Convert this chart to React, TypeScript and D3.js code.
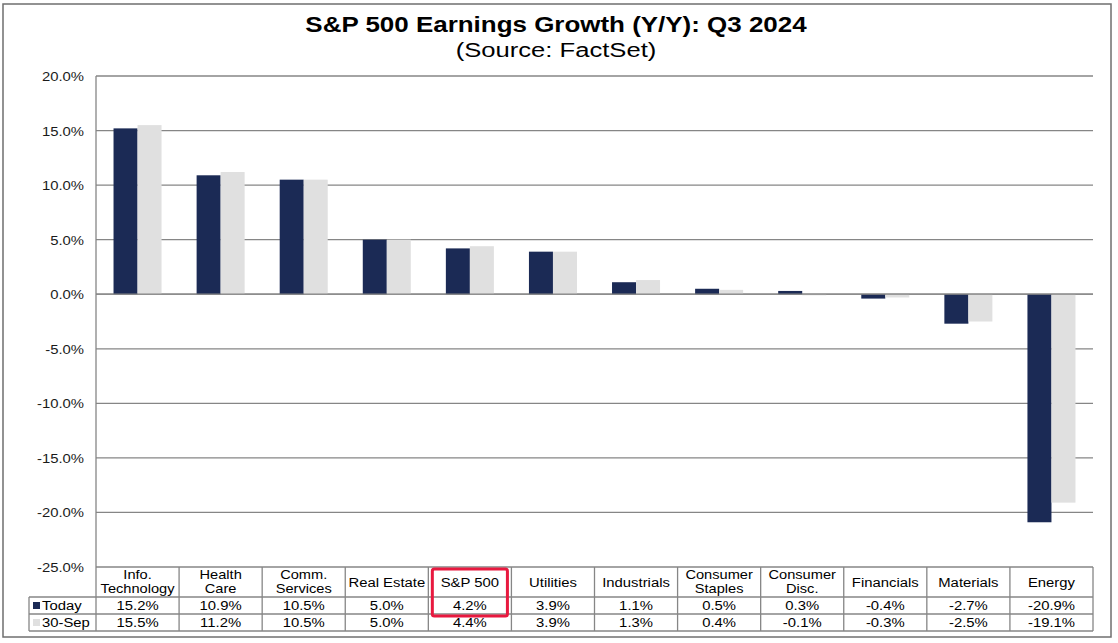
import React from "react";
import * as d3 from "d3";

const categories: string[][] = [
  ["Info.", "Technology"],
  ["Health", "Care"],
  ["Comm.", "Services"],
  ["Real Estate"],
  ["S&P 500"],
  ["Utilities"],
  ["Industrials"],
  ["Consumer", "Staples"],
  ["Consumer", "Disc."],
  ["Financials"],
  ["Materials"],
  ["Energy"],
];
const todayValues = [15.2, 10.9, 10.5, 5.0, 4.2, 3.9, 1.1, 0.5, 0.3, -0.4, -2.7, -20.9];
const sepValues = [15.5, 11.2, 10.5, 5.0, 4.4, 3.9, 1.3, 0.4, -0.1, -0.3, -2.5, -19.1];
const seriesNames = ["Today", "30-Sep"];
const yTicks = [20, 15, 10, 5, 0, -5, -10, -15, -20, -25];
const title = "S&P 500 Earnings Growth (Y/Y): Q3 2024";
const subtitle = "(Source: FactSet)";
const highlight = "S&P 500";

const W = 1118;
const H = 643;
const plotL = 96;
const plotR = 1093;
const plotT = 76;
const plotB = 567;
const rowH = 597;
const row1 = 614;
const row2 = 631;
const legendL = 29;
const colors = ["#1B2A55", "#E0E0E0"];
const gridColor = "#868686";
const FONT = "'Liberation Sans', Arial, sans-serif";

function SText(props: {
  x: number;
  y: number;
  size: number;
  sx: number;
  anchor?: string;
  weight?: string;
  fill?: string;
  children: React.ReactNode;
}) {
  const { x, y, size, sx, anchor = "middle", weight = "normal", fill = "#000" } = props;
  return (
    <text
      transform={`translate(${x},${y}) scale(${sx},1)`}
      textAnchor={anchor as any}
      fontSize={size}
      fontWeight={weight}
      fill={fill}
      fontFamily={FONT}
    >
      {props.children}
    </text>
  );
}

export default function App() {
  const keys = categories.map((c) => c.join(" "));
  const x = d3.scaleBand<string>().domain(keys).range([plotL, plotR]).paddingInner(0).paddingOuter(0);
  const inner = d3
    .scaleBand<string>()
    .domain(seriesNames)
    .range([0, x.bandwidth()])
    .paddingInner(0)
    .paddingOuter(0.73);
  const y = d3.scaleLinear().domain([-25, 20]).range([plotB, plotT]);
  const series = [todayValues, sepValues];
  const fmt = (v: number) => v.toFixed(1) + "%";
  const hiIdx = keys.indexOf(highlight);

  return (
    <svg
      width={W}
      height={H}
      style={{ position: "absolute", left: 0, top: 0, background: "#fff" }}
    >
      <rect x={0} y={0} width={W} height={H} fill="#fff" />
      <rect x={3} y={4} width={1108} height={633} fill="none" stroke="#6f6f6f" strokeWidth={1.5} />

      <SText x={556} y={32} size={22} sx={1.18} weight="bold">
        {title}
      </SText>
      <SText x={556} y={57} size={21} sx={1.22}>
        {subtitle}
      </SText>

      {/* gridlines */}
      {yTicks.map((t) => (
        <line
          key={"g" + t}
          x1={plotL}
          x2={plotR}
          y1={y(t)}
          y2={y(t)}
          stroke={gridColor}
          strokeWidth={1.3}
        />
      ))}
      <line x1={plotL} x2={plotL} y1={plotT} y2={row2} stroke={gridColor} strokeWidth={1.3} />

      {/* y tick labels */}
      {yTicks.map((t) => (
        <SText key={"t" + t} x={84} y={y(t) + 5} size={13.5} sx={1.1} anchor="end" fill="#1a1a1a">
          {fmt(t)}
        </SText>
      ))}

      {/* bars */}
      {series.map((vals, si) =>
        vals.map((v, i) => {
          const x0 = (x(keys[i]) as number) + (inner(seriesNames[si]) as number);
          const y0 = y(Math.max(0, v));
          const h = Math.max(1, Math.abs(y(v) - y(0)));
          return (
            <rect
              key={si + "-" + i}
              x={x0}
              y={y0}
              width={inner.bandwidth()}
              height={h}
              fill={colors[si]}
            />
          );
        })
      )}
      <line x1={plotL} x2={plotR} y1={y(0)} y2={y(0)} stroke={gridColor} strokeWidth={1.3} />

      {/* table */}
      {[rowH, row1, row2].map((ry) => (
        <line key={"r" + ry} x1={legendL} x2={plotR} y1={ry} y2={ry} stroke={gridColor} strokeWidth={1.3} />
      ))}
      <line x1={legendL} x2={legendL} y1={rowH} y2={row2} stroke={gridColor} strokeWidth={1.3} />
      {keys.map((k) => (
        <line
          key={"v" + k}
          x1={(x(k) as number) + x.bandwidth()}
          x2={(x(k) as number) + x.bandwidth()}
          y1={plotB}
          y2={row2}
          stroke={gridColor}
          strokeWidth={1.3}
        />
      ))}
      {categories.map((lines, i) => {
        const cx = (x(keys[i]) as number) + x.bandwidth() / 2;
        if (lines.length === 1) {
          return (
            <SText key={"c" + i} x={cx} y={587} size={13.5} sx={1.1}>
              {lines[0]}
            </SText>
          );
        }
        return (
          <g key={"c" + i}>
            <SText x={cx} y={578.5} size={12.5} sx={1.17}>
              {lines[0]}
            </SText>
            <SText x={cx} y={593} size={12.5} sx={1.17}>
              {lines[1]}
            </SText>
          </g>
        );
      })}
      {series.map((vals, si) =>
        vals.map((v, i) => (
          <SText
            key={"val" + si + i}
            x={(x(keys[i]) as number) + x.bandwidth() / 2}
            y={(si === 0 ? rowH : row1) + 13}
            size={13.5}
            sx={1.1}
          >
            {fmt(v)}
          </SText>
        ))
      )}
      {seriesNames.map((n, si) => {
        const ry = si === 0 ? rowH : row1;
        return (
          <g key={"lg" + n}>
            <rect x={33} y={ry + 5} width={7} height={7} fill={colors[si]} />
            <SText x={42} y={ry + 13} size={13.5} sx={1.1} anchor="start">
              {n}
            </SText>
          </g>
        );
      })}

      {/* highlight box */}
      {hiIdx >= 0 && (
        <rect
          x={(x(keys[hiIdx]) as number) + 4}
          y={plotB + 2}
          width={x.bandwidth() - 8}
          height={row1 + 2 - plotB - 2}
          fill="none"
          stroke="#E8193F"
          strokeWidth={3}
          rx={2}
        />
      )}
    </svg>
  );
}
